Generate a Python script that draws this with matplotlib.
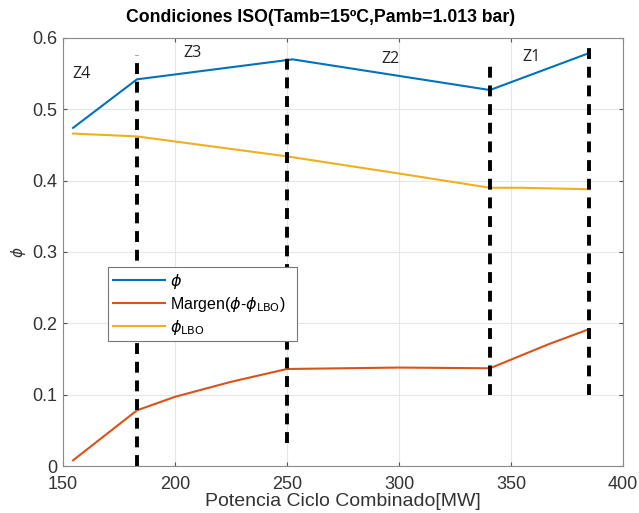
import matplotlib
matplotlib.use("Agg")
import matplotlib.pyplot as plt

plt.rcParams['font.family'] = ['Liberation Sans', 'DejaVu Sans']
plt.rcParams['mathtext.fontset'] = 'dejavusans'

# Data
phi_x = [154.5, 183, 252.5, 340.6, 385]
phi_y = [0.474, 0.542, 0.570, 0.527, 0.579]

lbo_x = [154.5, 183, 250, 300, 340.6, 355, 385]
lbo_y = [0.466, 0.462, 0.434, 0.410, 0.390, 0.390, 0.388]

marg_x = [154.5, 183, 200, 225, 250, 300, 340.6, 367, 385]
marg_y = [0.008, 0.078, 0.097, 0.118, 0.136, 0.138, 0.137, 0.171, 0.192]

zone_x = [183, 250, 340.6, 385]
zone_ymin = [0.0, 0.032, 0.10, 0.10]
zone_ymax = [0.576, 0.580, 0.566, 0.587]

zone_labels = ['Z4', 'Z3', 'Z2', 'Z1']
zone_lx = [158.3, 208, 296, 359]
zone_ly = [0.550, 0.579, 0.570, 0.574]

fig = plt.figure(figsize=(6.39, 5.13), dpi=100)
ax = fig.add_axes([0.0986, 0.0916, 0.8764, 0.8344])

c_blue = '#0072BD'
c_orange = '#D95319'
c_yellow = '#EDB120'

ax.plot(phi_x, phi_y, color=c_blue, lw=1.5, label=r'$\phi$')
ax.plot(marg_x, marg_y, color=c_orange, lw=1.5, label=r'Margen($\phi$-$\phi_{\mathrm{LBO}}$)')
ax.plot(lbo_x, lbo_y, color=c_yellow, lw=1.5, label=r'$\phi_{\mathrm{LBO}}$')

for x, y0, y1 in zip(zone_x, zone_ymin, zone_ymax):
    ax.plot([x, x], [y0, y1], color='black', lw=2.8, dashes=(2.8, 2.0))

for lab, x, y in zip(zone_labels, zone_lx, zone_ly):
    ax.text(x, y, lab, fontsize=11.5, ha='center', va='center', color='#222222',
            family=['Open Sans', 'DejaVu Sans'])

ax.set_xlim(150, 400)
ax.set_ylim(0, 0.6)
ax.set_xticks([150, 200, 250, 300, 350, 400])
ax.set_yticks([0, 0.1, 0.2, 0.3, 0.4, 0.5, 0.6])
ax.set_yticklabels(['0', '0.1', '0.2', '0.3', '0.4', '0.5', '0.6'])
ax.grid(True, color='#e6e6e6', lw=0.8)
ax.set_axisbelow(True)
for s in ax.spines.values():
    s.set_color('#8a8a8a')
    s.set_linewidth(0.8)
ax.tick_params(direction='in', length=3, colors='#555555', labelsize=13,
               top=True, right=True, labeltop=False, labelright=False)
ax.tick_params(axis='x', pad=7)
ax.tick_params(axis='y', pad=4)
for lbl in ax.get_xticklabels() + ax.get_yticklabels():
    lbl.set_color('#333333')

ax.set_xlabel('Potencia Ciclo Combinado[MW]', fontsize=14, color='#333333', labelpad=0)
ax.set_ylabel(r'$\phi$', fontsize=11, color='#333333', labelpad=3)
fig.text(0.502, 0.965, 'Condiciones ISO(Tamb=15ºC,Pamb=1.013 bar)', fontsize=12.7,
         fontweight='bold', ha='center', va='center')

leg = ax.legend(loc='lower left', bbox_to_anchor=(0.080, 0.291, 0.338, 0.172), mode='expand',
                fancybox=False, framealpha=1, edgecolor='#777777', fontsize=11.5,
                handlelength=3.3, borderaxespad=0, labelspacing=0.25, handletextpad=0.3,
                borderpad=0.3)
leg.get_frame().set_linewidth(0.8)

fig.savefig('out.png', dpi=100)
